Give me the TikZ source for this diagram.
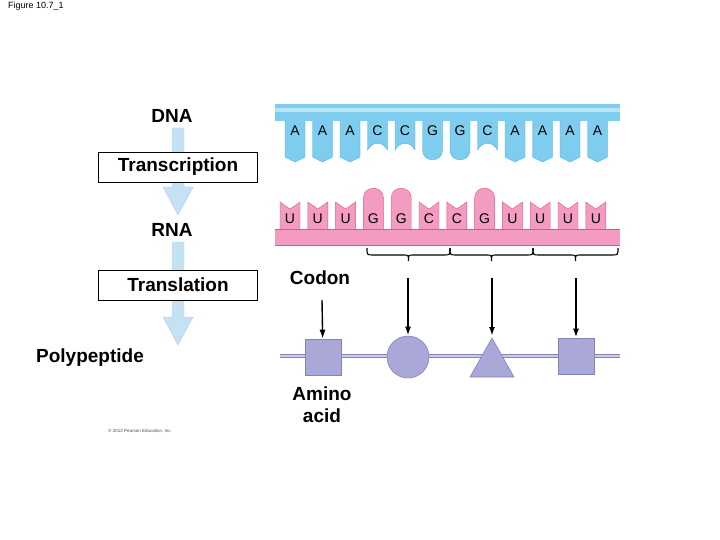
\documentclass[tikz,border=0pt]{standalone}
\usepackage{fontspec}
\setmainfont{Liberation Sans}
\usetikzlibrary{arrows.meta}
\definecolor{dnablue}{HTML}{7FCDEE}
\definecolor{dnaedge}{HTML}{45B0E0}
\definecolor{rnapink}{HTML}{F49BC1}
\definecolor{rnaedge}{HTML}{E0558F}
\definecolor{aacol}{HTML}{A9A8D8}
\definecolor{aaedge}{HTML}{8583BE}
\definecolor{flowblue}{HTML}{C4E2F3}
\begin{document}
\begin{tikzpicture}
        [x=1pt,y=-1pt,
        lab/.style={font=\fontsize{19}{21}\selectfont\bfseries,inner sep=0},
        base/.style={font=\fontsize{14}{15}\selectfont,inner sep=0},
        stage/.style={draw,fill=white,minimum width=159pt,minimum height=30pt,inner sep=0,font=\fontsize{19}{21}\selectfont\bfseries},
        dna/.style={fill=dnablue,draw=dnaedge,line width=0.4pt},
        rna/.style={fill=rnapink,draw=rnaedge,line width=0.4pt},
        aa/.style={fill=aacol,draw=aaedge,line width=0.6pt},
        flow/.style={fill=flowblue,draw=flowblue!70!blue!60!white,line width=0.4pt},
        ptr/.style={-{Latex[length=9pt,width=6pt]},line width=2pt}]
        \useasboundingbox (0,0) rectangle (720,540);

        \node[anchor=north west,font=\fontsize{9}{10}\selectfont,inner sep=0] (fig) at (8,2) {Figure 10.7\_1};
        \node[font=\fontsize{4.5}{5}\selectfont,text=black!70,inner sep=0] (copy) at (140,431) {\textcopyright\ 2012 Pearson Education, Inc.};

        % flow chart on the left
        \draw[flow] (172,128) -- (184,128) -- (184,187) -- (193,187) -- (178,215) -- (163,187) -- (172,187) -- cycle;
        \draw[flow] (172,242) -- (184,242) -- (184,317) -- (193,317) -- (178,345) -- (163,317) -- (172,317) -- cycle;
        \node[lab] (dna) at (172,116) {DNA};
        \node[stage] (tsc) at (178,167) {Transcription};
        \node[lab] (rna) at (172,230) {RNA};
        \node[stage] (tsl) at (178,285) {Translation};
        \node[lab] (pp) at (90,358) {Polypeptide};

        % DNA strand
        \foreach \b [count=\i from 0] in {A,A,A,C,C,G,G,C,A,A,A,A} {
          \pgfmathsetmacro{\xb}{295+27.5*\i}
          \if\b A
            \draw[dna] (\xb-10,118) -- (\xb-10,157) -- (\xb,162) -- (\xb+10,157) -- (\xb+10,118);
          \fi
          \if\b C
            \draw[dna] (\xb-10,118) -- (\xb-10,150) .. controls (\xb-5,141) and (\xb+5,141) .. (\xb+10,150) -- (\xb+10,118);
          \fi
          \if\b G
            \draw[dna] (\xb-10,118) -- (\xb-10,150) .. controls (\xb-10,163) and (\xb+10,163) .. (\xb+10,150) -- (\xb+10,118);
          \fi
          \node[base] (d\i) at (\xb,131) {\b};
        }
        \fill[dnablue] (275,104) rectangle (620,121);
        \fill[dnablue!55!white] (275,108) rectangle (620,112);

        % RNA strand
        \foreach \b [count=\i from 0] in {U,U,U,G,G,C,C,G,U,U,U,U} {
          \pgfmathsetmacro{\xb}{290+27.8*\i}
          \if\b G
            \draw[rna] (\xb-10,230) -- (\xb-10,198) .. controls (\xb-10,185) and (\xb+10,185) .. (\xb+10,198) -- (\xb+10,230);
          \else
            \draw[rna] (\xb-10,230) -- (\xb-10,202) -- (\xb,209) -- (\xb+10,202) -- (\xb+10,230);
          \fi
          \node[base] (r\i) at (\xb,219) {\b};
        }
        \fill[rnapink] (275,229) rectangle (620,245);
        \draw[rnaedge] (275,229) -- (620,229);
        \draw[rnaedge] (275,245) -- (620,245);

        % codon braces
        \foreach \l/\r [count=\j] in {367/450,450/533,533/618} {
          \coordinate (bl\j) at (\l,248);
          \coordinate (br\j) at (\r,248);
          \draw[line width=1.1pt] (bl\j) .. controls (\l,255) .. (\l+6,255) -- ({(\l+\r)/2-5},255) .. controls ({(\l+\r)/2},255) .. ({(\l+\r)/2},261)
            .. controls ({(\l+\r)/2},255) .. ({(\l+\r)/2+5},255) -- (\r-6,255) .. controls (\r,255) .. (br\j);
        }

        % polypeptide chain
        \draw[aaedge,line width=4pt] (280,356) -- (620,356);
        \draw[aacol!60!white,line width=1.4pt] (280,356) -- (620,356);
        \node[aa,minimum size=36pt,inner sep=0] (aa1) at (323,357) {};
        \node[aa,circle,minimum size=42pt,inner sep=0] (aa2) at (408,357) {};
        \draw[aa] (470,377) -- (492,338) -- (514,377) -- cycle;
        \coordinate (aa3) at (492,336);
        \node[aa,minimum size=36pt,inner sep=0] (aa4) at (576,356) {};

        \node[lab] (codon) at (320,278) {Codon};
        \node[lab,align=center,font=\fontsize{19}{22}\selectfont\bfseries] (amino) at (322,405) {Amino\\acid};

        \coordinate (c0) at (322,300);
        \coordinate (c1) at (408,278);
        \coordinate (c2) at (492,278);
        \coordinate (c3) at (576,278);
        \draw[ptr,line width=1.4pt] (c0) -- (aa1);
        \draw[ptr] (c1) -- (aa2);
        \draw[ptr] (c2) -- (aa3);
        \draw[ptr] (c3) -- (aa4);
      \end{tikzpicture}
\end{document}
